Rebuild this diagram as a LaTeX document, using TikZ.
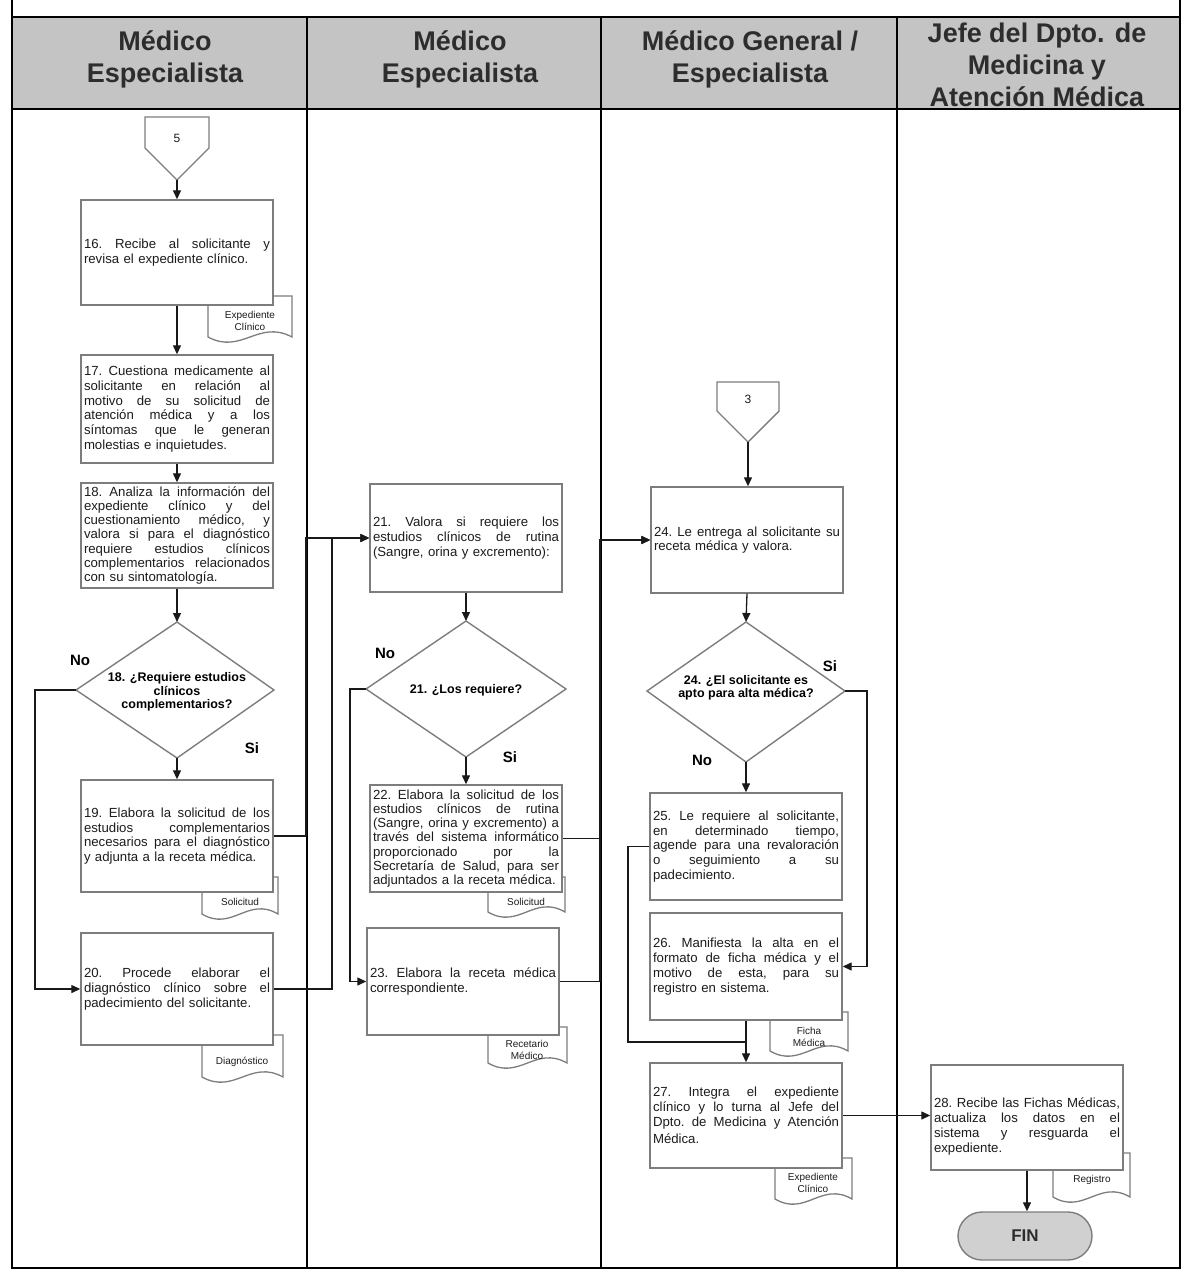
\documentclass[tikz,border=0pt]{standalone}
\usepackage{fontspec}
\setmainfont{Liberation Sans}
\usetikzlibrary{arrows.meta}

\definecolor{hdrfill}{RGB}{196,196,196}
\definecolor{hdrtext}{RGB}{45,45,45}
\definecolor{boxline}{RGB}{125,125,125}
\definecolor{bodytext}{RGB}{28,28,28}
\definecolor{wirecol}{RGB}{25,25,25}
\definecolor{finfill}{RGB}{208,208,208}

% one fully justified line of a step description
\newcommand\J[1]{\makebox[186pt][s]{\frenchspacing\spaceskip=0.278em plus 1fil\relax #1}}

% document symbol: #1 name, #2/#3 left/right x, #4 top y, #5 wave base y, #6 label x, #7 label y, #8 label
\newcommand\docsheet[8]{%
  \draw[sheet] (#2,#4) -- (#3,#4) -- (#3,#5)
    .. controls ({#2+0.6*(#3-#2)},{#5-18}) and ({#2+0.4*(#3-#2)},{#5+18}) .. (#2,#5) -- cycle;
  \node[doclabel] (#1) at (#6,#7) {#8};}

\begin{document}
\begin{tikzpicture}[x=1pt,y=-1pt,
  laneline/.style={line width=1.3pt,draw=black},
  hdr/.style={font=\fontsize{27}{32}\selectfont\bfseries,text=hdrtext,align=center},
  stepbox/.style={draw=boxline,line width=1.4pt,fill=white,text width=186pt,
    inner xsep=3pt,inner ysep=2pt,align=left,
    font=\fontsize{13.2}{14.8}\selectfont\frenchspacing,text=bodytext},
  tightbox/.style={stepbox,font=\fontsize{13.2}{14.1}\selectfont\frenchspacing},
  decision/.style={font=\fontsize{12.5}{13.5}\selectfont\bfseries,text=black,align=center},
  sheet/.style={draw=boxline,line width=1.3pt,fill=white},
  outline/.style={draw=boxline,line width=1.4pt,fill=white},
  doclabel/.style={font=\fontsize{10}{12.5}\selectfont,text=bodytext,align=center},
  yn/.style={font=\fontsize{15}{15}\selectfont\bfseries,text=black},
  wire/.style={draw=wirecol,line width=1.3pt},
  arr/.style={wire,-{Triangle[length=9pt,width=8pt]}},
]
\useasboundingbox (0,0) rectangle (1182,1270);

% ---------- swimlane frame and header ----------
\fill[hdrfill] (12,17) rectangle (1180,109);
\draw[laneline] (12,0) -- (12,1268) -- (1180,1268) -- (1180,0);
\draw[laneline] (12,17) -- (1180,17);
\draw[laneline] (12,109) -- (1180,109);
\draw[laneline] (307,17) -- (307,1268);
\draw[laneline] (601,17) -- (601,1268);
\draw[laneline] (897,17) -- (897,1268);

\node[hdr] (h1) at (165,59) {Médico\\Especialista};
\node[hdr] (h2) at (460,59) {Médico\\Especialista};
\node[hdr] (h3) at (750,59) {Médico General /\\Especialista};
\node[hdr] (h4) at (1037,65) {Jefe del Dpto. de\\Medicina y\\Atención Médica};

% ---------- off-page connectors ----------
\coordinate (c5tip) at (177,180);
\draw[outline] (145,117) -- (209,117) -- (209,148) -- (c5tip) -- (145,148) -- cycle;
\node[font=\fontsize{12}{12}\selectfont,text=bodytext] (c5) at (177,138) {5};

\coordinate (c3tip) at (748,442);
\draw[outline] (717,382) -- (779,382) -- (779,411) -- (c3tip) -- (717,411) -- cycle;
\node[font=\fontsize{12}{12}\selectfont,text=bodytext] (c3) at (748,399) {3};

% ---------- document symbols (drawn under the steps) ----------
\docsheet{dA}{208}{292}{296}{337}{250}{321}{Expediente\\Clínico}
\docsheet{dB}{202}{278}{877}{914}{240}{902}{Solicitud}
\docsheet{dC}{202}{283}{1035}{1077}{242}{1062}{Diagnóstico}
\docsheet{dD}{488}{565}{877}{912}{526}{902}{Solicitud}
\docsheet{dE}{488}{567}{1027}{1063}{527}{1050}{Recetario\\Médico}
\docsheet{dF}{770}{848}{1012}{1051}{809}{1037}{Ficha\\Médica}
\docsheet{dG}{775}{852}{1158}{1199}{813}{1183}{Expediente\\Clínico}
\docsheet{dH}{1053}{1130}{1153}{1197}{1092}{1180}{Registro}

% ---------- lane 1 ----------
\node[stepbox,minimum height=105pt] (s16) at (177,252.5)
  {\J{16. Recibe al solicitante y}\\revisa el expediente clínico.};
\node[stepbox,minimum height=108pt] (s17) at (177,409)
  {\J{17. Cuestiona medicamente al}\\\J{solicitante en relación al}\\\J{motivo de su solicitud de}\\\J{atención médica y a los}\\\J{síntomas que le generan}\\molestias e inquietudes.};
\node[tightbox,minimum height=105pt] (s18) at (177,535.5)
  {\J{18. Analiza la información del}\\\J{expediente clínico y del}\\\J{cuestionamiento médico, y}\\\J{valora si para el diagnóstico}\\\J{requiere estudios clínicos}\\\J{complementarios relacionados}\\con su sintomatología.};

\coordinate (d18n) at (177,622);
\coordinate (d18e) at (274,690);
\coordinate (d18s) at (177,758);
\coordinate (d18w) at (76,690);
\draw[outline] (d18n) -- (d18e) -- (d18s) -- (d18w) -- cycle;
\node[decision] (d18) at (177,692) {18. ¿Requiere estudios\\clínicos\\complementarios?};
\node[yn] (no18) at (80,660) {No};
\node[yn] (si18) at (252,748) {Si};

\node[stepbox,minimum height=112pt] (s19) at (177,836)
  {\J{19. Elabora la solicitud de los}\\\J{estudios complementarios}\\\J{necesarios para el diagnóstico}\\y adjunta a la receta médica.};
\node[stepbox,minimum height=112pt] (s20) at (177,989)
  {\J{20. Procede elaborar el}\\\J{diagnóstico clínico sobre el}\\padecimiento del solicitante.};

% ---------- lane 2 ----------
\node[stepbox,minimum height=108pt] (s21) at (466,538)
  {\J{21. Valora si requiere los}\\\J{estudios clínicos de rutina}\\(Sangre, orina y excremento):};

\coordinate (d21n) at (466,621);
\coordinate (d21e) at (566,689);
\coordinate (d21s) at (466,757);
\coordinate (d21w) at (366,689);
\draw[outline] (d21n) -- (d21e) -- (d21s) -- (d21w) -- cycle;
\node[decision] (d21) at (466,690) {21. ¿Los requiere?};
\node[yn] (no21) at (385,653) {No};
\node[yn] (si21) at (510,757) {Si};

\node[tightbox,minimum height=107pt] (s22) at (466,838.5)
  {\J{22. Elabora la solicitud de los}\\\J{estudios clínicos de rutina}\\\J{(Sangre, orina y excremento) a}\\\J{través del sistema informático}\\\J{proporcionado por la}\\\J{Secretaría de Salud, para ser}\\adjuntados a la receta médica.};
\node[stepbox,minimum height=107pt] (s23) at (463,981.5)
  {\J{23. Elabora la receta médica}\\correspondiente.};

% ---------- lane 3 ----------
\node[stepbox,minimum height=106pt] (s24) at (747,540)
  {\J{24. Le entrega al solicitante su}\\receta médica y valora.};

\coordinate (d24n) at (746,622);
\coordinate (d24e) at (845,691);
\coordinate (d24s) at (746,762);
\coordinate (d24w) at (647,691);
\draw[outline] (d24n) -- (d24e) -- (d24s) -- (d24w) -- cycle;
\node[decision] (d24) at (746,688) {24. ¿El solicitante es\\apto para alta médica?};
\node[yn] (si24) at (830,666) {Si};
\node[yn] (no24) at (702,760) {No};

\node[stepbox,minimum height=107pt] (s25) at (746,846.5)
  {\J{25. Le requiere al solicitante,}\\\J{en determinado tiempo,}\\\J{agende para una revaloración}\\\J{o seguimiento a su}\\padecimiento.};
\node[stepbox,minimum height=107pt] (s26) at (746,966.5)
  {\J{26. Manifiesta la alta en el}\\\J{formato de ficha médica y el}\\\J{motivo de esta, para su}\\registro en sistema.};
\node[stepbox,minimum height=105pt] (s27) at (746,1115.5)
  {\J{27. Integra el expediente}\\\J{clínico y lo turna al Jefe del}\\\J{Dpto. de Medicina y Atención}\\[3pt]Médica.};

% ---------- lane 4 ----------
\node[stepbox,minimum height=105pt] (s28) at (1027,1117.5)
  {\rule{0pt}{28pt}\J{28. Recibe las Fichas Médicas,}\\\J{actualiza los datos en el}\\\J{sistema y resguarda el}\\expediente.};
\node[draw=boxline,line width=1.4pt,fill=finfill,rounded corners=24pt,
  minimum width=134pt,minimum height=48pt,
  font=\fontsize{17}{17}\selectfont\bfseries,text=hdrtext] (fin) at (1025,1236) {FIN};

% ---------- connectors ----------
\draw[arr] (c5tip) -- (c5tip |- s16.north);
\draw[arr] (s16.south) -- (s17.north);
\draw[arr] (s17.south) -- (s18.north);
\draw[arr] (s18.south) -- (d18n);
\draw[arr] (d18s) -- (s19.north);
\draw[arr] (d18w) -- (35,690) |- (s20.west);
\draw[arr] (s19.east) -| (306,538) -- (s21.west);
\draw[arr] (s20.east) -| (332,538) -- (s21.west);

\draw[arr] (s21.south) -- (d21n);
\draw[arr] (d21s) -- (s22.north);
\draw[arr] (d21w) -- (350,689) |- (s23.west);
\draw[arr] (s22.east) -| (600,540) -- (s24.west);
\draw[arr] (s23.east) -| (600,540) -- (s24.west);

\draw[arr] (c3tip) -- (c3tip |- s24.north);
\draw[arr] (s24.south) -- (d24n);
\draw[arr] (d24s) -- (s25.north);
\draw[arr] (d24e) -- (867,691) |- (s26.east);
\coordinate (m27) at (746,1042);
\draw[wire] (s25.west) -| (628,1042) -- (m27);
\draw[arr] (s26.south) -- (s27.north);
\draw[arr] (s27.east) -- (s27.east -| s28.west);
\draw[arr] (s28.south) -- (s28.south |- fin.north);
\end{tikzpicture}
\end{document}
